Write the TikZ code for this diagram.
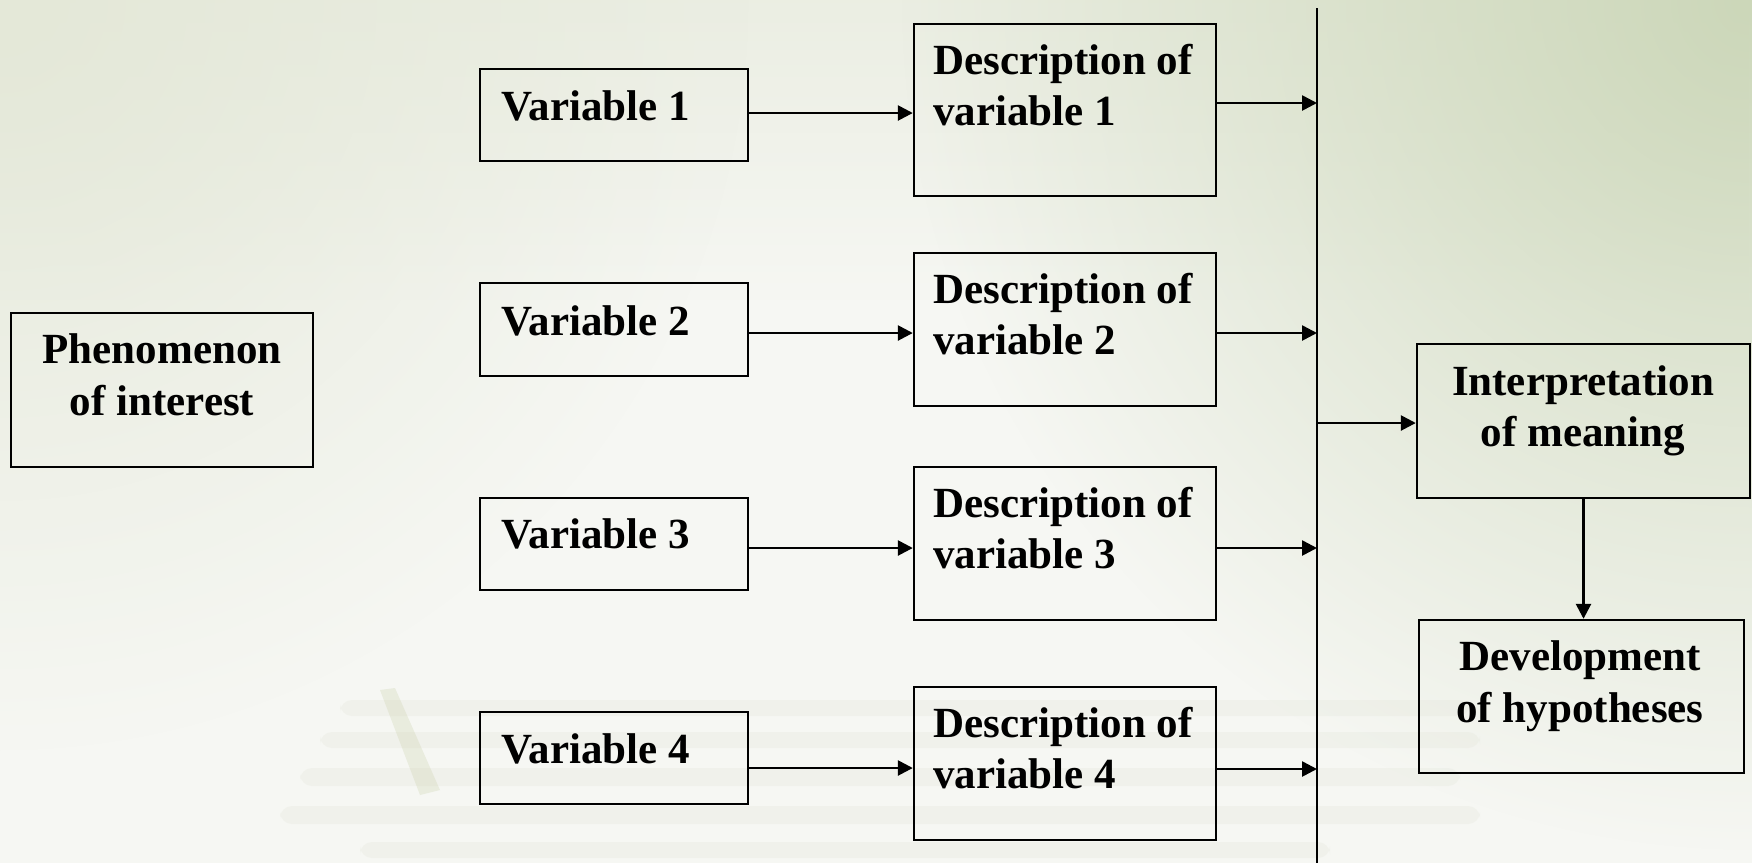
\documentclass[tikz,border=0pt]{standalone}
\usepackage{fontspec}
\setmainfont{Liberation Serif}
\usetikzlibrary{arrows.meta,calc,fadings}
\tikzfading[name=radfade, inner color=transparent!0, outer color=transparent!100]
\tikzfading[name=fadedown, top color=transparent!0, bottom color=transparent!100]
\definecolor{bgbase}{HTML}{F6F7F3}
\definecolor{bggreen}{HTML}{CCD7B9}
\definecolor{bgtop}{HTML}{E4E8D8}
\definecolor{paper}{HTML}{DDE0D2}
\definecolor{pencil}{HTML}{CDD3AE}
\begin{document}
\begin{tikzpicture}[x=0.5pt,y=-0.5pt,
  box/.style={draw=black, line width=1.2pt, inner sep=0pt, fill=none},
  lbl/.style={font=\bfseries\fontsize{21.5}{25.5}\selectfont, inner sep=0pt, text=black},
  arr/.style={line width=1.3pt, -{Triangle[length=7.5pt,width=7.5pt]}},
  busline/.style={line width=1.1pt}
]
% background
\fill[bgbase] (0,0) rectangle (1752,863);
\begin{scope}
\clip (0,0) rectangle (1752,863);
\fill[bgtop, opacity=0.6, path fading=fadedown] (0,0) rectangle (1752,300);
\fill[bgtop, path fading=radfade] (0,0) circle (750);
\fill[bggreen, path fading=radfade] (1752,0) circle (850);
% faint papers
\foreach \ya/\yb/\xa/\xb in {700/716/340/1470, 732/748/320/1480, 768/786/300/1460, 806/824/280/1480, 842/858/360/1330}
  \fill[paper, opacity=0.22, rounded corners=6pt] (\xa,\ya) rectangle (\xb,\yb);
\fill[pencil, opacity=0.3] (380,690) -- (395,688) -- (440,790) -- (420,795) -- cycle;
\end{scope}

% boxes
\node[box, minimum width=151pt, minimum height=77pt] (phen) at (162,390) {};
\node[lbl, anchor=base] (phent1) at (162,363) {Phenomenon};
\node[lbl, anchor=base] (phent2) at (162,415) {of interest};

\node[box, minimum width=134pt, minimum height=46pt] (v1) at (614,115) {};
\node[box, minimum width=134pt, minimum height=46.5pt] (v2) at (614,329.5) {};
\node[box, minimum width=134pt, minimum height=46pt] (v3) at (614,544) {};
\node[box, minimum width=134pt, minimum height=46pt] (v4) at (614,758) {};
\node[lbl, anchor=base west] (v1t) at (501,120) {Variable 1};
\node[lbl, anchor=base west] (v2t) at (501,335) {Variable 2};
\node[lbl, anchor=base west] (v3t) at (501,548) {Variable 3};
\node[lbl, anchor=base west] (v4t) at (501,763) {Variable 4};

\node[box, minimum width=151pt, minimum height=86pt] (d1) at (1065,110) {};
\node[box, minimum width=151pt, minimum height=76.5pt] (d2) at (1065,329.5) {};
\node[box, minimum width=151pt, minimum height=76.5pt] (d3) at (1065,543.5) {};
\node[box, minimum width=151pt, minimum height=76.5pt] (d4) at (1065,763.5) {};
\node[lbl, anchor=base west] (d1a) at (933,74) {Description of};
\node[lbl, anchor=base west] (d1b) at (933,125) {variable 1};
\node[lbl, anchor=base west] (d2a) at (933,303) {Description of};
\node[lbl, anchor=base west] (d2b) at (933,354) {variable 2};
\node[lbl, anchor=base west] (d3a) at (933,517) {Description of};
\node[lbl, anchor=base west] (d3b) at (933,568) {variable 3};
\node[lbl, anchor=base west] (d4a) at (933,737) {Description of};
\node[lbl, anchor=base west] (d4b) at (933,788) {variable 4};

\node[box, minimum width=166.5pt, minimum height=77pt] (interp) at (1583.5,421) {};
\node[lbl, anchor=base] (it1) at (1583,395) {Interpretation};
\node[lbl, anchor=base] (it2) at (1583,446) {of meaning};

\node[box, minimum width=162.5pt, minimum height=76.5pt] (dev) at (1581.5,696.5) {};
\node[lbl, anchor=base] (dt1) at (1580,670) {Development};
\node[lbl, anchor=base] (dt2) at (1580,722) {of hypotheses};

% bus line
\coordinate (bustop) at (1317,8);
\coordinate (busbot) at (1317,863);
\draw[busline] (bustop) -- (busbot);

% variable -> description
\coordinate (a1) at ($(v1.east)+(0,-2)$);
\coordinate (a2) at ($(v2.east)+(0,3.5)$);
\coordinate (a3) at ($(v3.east)+(0,4)$);
\coordinate (a4) at ($(v4.east)+(0,10)$);
\draw[arr] (a1) -- (a1 -| d1.west);
\draw[arr] (a2) -- (a2 -| d2.west);
\draw[arr] (a3) -- (a3 -| d3.west);
\draw[arr] (a4) -- (a4 -| d4.west);

% description -> bus
\coordinate (b1) at ($(d1.east)+(0,-7)$);
\coordinate (b2) at ($(d2.east)+(0,3.5)$);
\coordinate (b3) at ($(d3.east)+(0,4.5)$);
\coordinate (b4) at ($(d4.east)+(0,5.5)$);
\draw[arr] (b1) -- (b1 -| bustop);
\draw[arr] (b2) -- (b2 -| bustop);
\draw[arr] (b3) -- (b3 -| bustop);
\draw[arr] (b4) -- (b4 -| bustop);

% bus -> interpretation -> development
\coordinate (c1) at ($(interp.west)+(0,2)$);
\draw[arr] (c1 -| bustop) -- (c1);
\draw[arr] (interp.south) -- (interp.south |- dev.north);
\end{tikzpicture}
\end{document}
